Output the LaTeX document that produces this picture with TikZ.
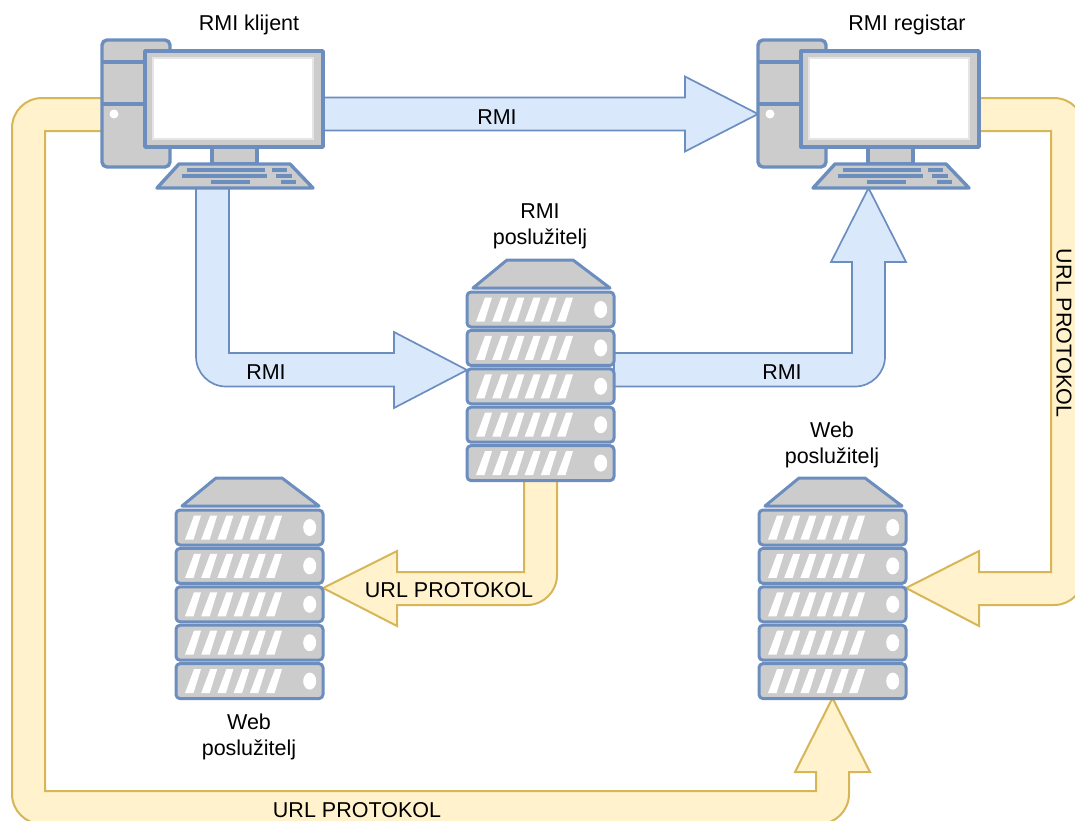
\documentclass[tikz,border=0pt]{standalone}
\usepackage{fontspec}
\setmainfont{Liberation Sans}
\usetikzlibrary{calc}
\definecolor{devline}{HTML}{6C8EBF}
\definecolor{blueline}{HTML}{6C8EBF}
\definecolor{bluefill}{HTML}{DAE8FC}
\definecolor{yelline}{HTML}{D6B656}
\definecolor{yelfill}{HTML}{FFF2CC}
\definecolor{devgray}{HTML}{CCCCCC}
\tikzset{
  x=1pt,y=1pt,
  anchorbox/.style={draw=none,fill=none,inner sep=0pt,outer sep=0pt,minimum width=#1},
  blockblue/.style={draw=blueline,fill=bluefill,line width=1.7pt,line join=miter},
  blockyel/.style={draw=yelline,fill=yelfill,line width=2pt,line join=miter},
  devshape/.style={draw=devline,fill=devgray,line width=3.4pt,line join=round},
  keyrow/.style={fill=devline,draw=none},
  slot/.style={fill=white,draw=none},
  lbl/.style={font=\fontsize{21.5}{26}\selectfont,align=center,inner sep=0pt},
  pics/computer/.style={code={
    \draw[devshape,rounded corners=5pt] (0,0) rectangle (68,-127);
    \draw[devline,line width=3.4pt] (0,-22) -- (68,-22) (0,-64) -- (68,-64);
    \fill[white] (12,-74) circle (4.5);
    \draw[devshape] (43,-11) rectangle (221,-107);
    \fill[white,draw=gray!20,line width=1.2pt] (51,-18) rectangle (211,-99);
    \draw[devshape] (110,-107) rectangle (155,-124);
    \draw[devshape] (77,-124) -- (188,-124) -- (211,-148) -- (55,-148) -- cycle;
    \fill[keyrow] (85,-128) rectangle (163,-132);
    \fill[keyrow] (170,-128) rectangle (185,-132);
    \fill[keyrow] (80,-134) rectangle (165,-138);
    \fill[keyrow] (174,-134) rectangle (190,-138);
    \fill[keyrow] (109,-140) rectangle (148,-144);
    \fill[keyrow] (179,-140) rectangle (194,-144);
  }},
  pics/server/.style={code={
    \draw[devshape,line width=3pt] (40,0) -- (106,0) -- (143,-28) -- (6,-28) -- cycle;
    \foreach \i in {0,...,4}{
      \begin{scope}[yshift={-32-38.4*\i}]
        \draw[devshape,line width=3pt,rounded corners=4pt] (0,0) rectangle (147,-35);
        \foreach \j in {0,...,5}{
          \fill[slot,xshift={16.2*\j}] (9,-29.5) -- (17.5,-29.5) -- (25,-5.5) -- (18,-5.5) -- cycle;
        }
        \fill[white] (133.7,-17.5) ellipse (6.5 and 8.5);
      \end{scope}
    }
  }},
}
\begin{document}
\begin{tikzpicture}
\useasboundingbox (0,0) rectangle (1075,-820);
\clip (0,0) rectangle (1075,-820);
% invisible device outlines, used as connector end points
\node[anchorbox=221pt,minimum height=148pt] (client) at (212.5,-114) {};
\node[anchorbox=221pt,minimum height=148pt] (registar) at (868.5,-114) {};
\node[anchorbox=147pt,minimum height=220pt] (rmisrv) at (540.5,-370) {};
\node[anchorbox=147pt,minimum height=220pt] (webL) at (249.5,-588) {};
\node[anchorbox=147pt,minimum height=220pt] (webR) at (832.5,-588) {};
% connectors
\draw[blockblue] ($(client.east)+(0,16.5)$) -- ($(client.east)+(362,16.5)$) -- ($(client.east)+(362,37.5)$)
  -- (registar.west) -- ($(client.east)+(362,-37.5)$) -- ($(client.east)+(362,-16.5)$) -- ($(client.east)+(0,-16.5)$) -- cycle;
\draw[blockblue] ($(client.south)+(-16.5,0)$) [rounded corners=30pt] -- ($(rmisrv.west)+(-271,-16.5)$) [sharp corners]
  -- ($(rmisrv.west)+(-73,-16.5)$) -- ($(rmisrv.west)+(-73,-38)$) -- (rmisrv.west)
  -- ($(rmisrv.west)+(-73,38)$) -- ($(rmisrv.west)+(-73,17)$) -- ($(rmisrv.west)+(-238,17)$)
  -- ($(client.south)+(16.5,0)$) -- cycle;
\draw[blockblue] ($(rmisrv.east)+(0,17)$) -- ($(rmisrv.east)+(238,17)$) -- ($(registar.south)+(-16.5,-74)$)
  -- ($(registar.south)+(-37.5,-74)$) -- (registar.south) -- ($(registar.south)+(37.5,-74)$)
  -- ($(registar.south)+(16.5,-74)$) [rounded corners=30pt] -- ($(rmisrv.east)+(271,-16.5)$) [sharp corners]
  -- ($(rmisrv.east)+(0,-16.5)$) -- cycle;
\draw[blockyel] ($(rmisrv.south)+(-16.5,0)$) -- ($(webL.east)+(201,16)$) -- ($(webL.east)+(74,16)$)
  -- ($(webL.east)+(74,37)$) -- (webL.east) -- ($(webL.east)+(74,-38)$) -- ($(webL.east)+(74,-17)$)
  [rounded corners=30pt] -- ($(webL.east)+(234,-17)$) [sharp corners] -- ($(rmisrv.south)+(16.5,0)$) -- cycle;
\draw[blockyel] ($(registar.east)+(0,16)$) [rounded corners=30pt] -- ($(registar.east)+(105,16)$)
  -- ($(webR.east)+(178,-17)$) [sharp corners] -- ($(webR.east)+(73,-17)$) -- ($(webR.east)+(73,-38)$)
  -- (webR.east) -- ($(webR.east)+(73,37)$) -- ($(webR.east)+(73,16)$) -- ($(webR.east)+(145,16)$)
  -- ($(registar.east)+(72,-17)$) -- ($(registar.east)+(0,-17)$) -- cycle;
\draw[blockyel] ($(client.west)+(0,16)$) [rounded corners=30pt] -- ($(client.west)+(-90,16)$)
  -- ($(webR.south)+(-820.5,-126)$) -- ($(webR.south)+(16.5,-126)$) [sharp corners]
  -- ($(webR.south)+(16.5,-74)$) -- ($(webR.south)+(37.5,-74)$) -- (webR.south) -- ($(webR.south)+(-37.5,-74)$)
  -- ($(webR.south)+(-16.5,-74)$) -- ($(webR.south)+(-16.5,-93)$) -- ($(webR.south)+(-787.5,-93)$)
  -- ($(client.west)+(-57,-17)$) -- ($(client.west)+(0,-17)$) -- cycle;
% devices
\pic at (102,-40) {computer};
\pic at (758,-40) {computer};
\pic at (467,-260) {server};
\pic at (176,-478) {server};
\pic at (759,-478) {server};
% labels
\node[lbl] (tclient) at (249,-25) {RMI klijent};
\node[lbl] (treg) at (907,-25) {RMI registar};
\node[lbl] (tsrv) at (540,-226) {RMI\\poslužitelj};
\node[lbl] (twr) at (832,-445) {Web\\poslužitelj};
\node[lbl] (twl) at (249,-737) {Web\\poslužitelj};
\node[lbl] (t1) at (497,-117) {RMI};
\node[lbl] (t2) at (266,-372) {RMI};
\node[lbl] (t3) at (782,-372) {RMI};
\node[lbl] (t4) at (449,-590) {URL PROTOKOL};
\node[lbl] (t5) at (357,-810) {URL PROTOKOL};
\node[lbl,rotate=-90] (t6) at (1064,-333) {URL PROTOKOL};
\end{tikzpicture}
\end{document}
